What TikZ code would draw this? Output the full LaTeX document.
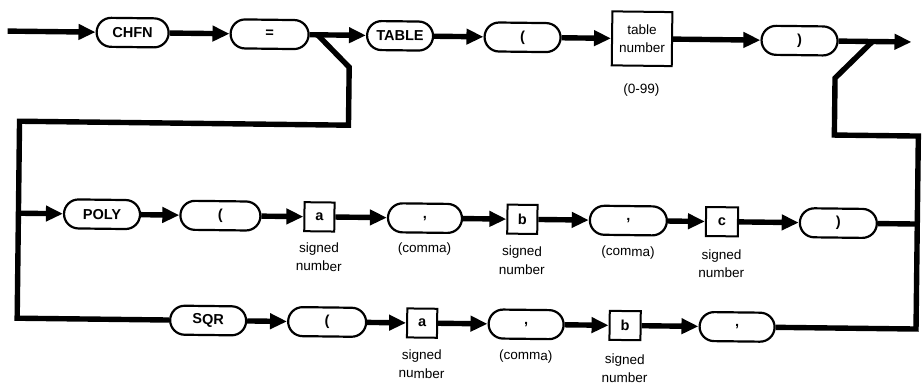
\documentclass[tikz,border=0pt]{standalone}
\usepackage{fontspec}
\setmainfont{Liberation Sans}
\usetikzlibrary{arrows.meta,shapes.misc}
\begin{document}
\begin{tikzpicture}[x=1pt,y=-1pt,
  conn/.style={line width=5.4pt, line join=miter, line cap=butt},
  flow/.style={conn, -{Triangle[length=17pt,width=15pt]}},
  kw/.style={draw, line width=2.2pt, rounded rectangle, minimum height=29pt,
    inner sep=0pt, font=\fontsize{14.5}{16}\selectfont\bfseries},
  val/.style={draw, line width=2pt, rectangle, minimum width=30pt,
    minimum height=29pt, inner sep=0pt, font=\fontsize{14.5}{16}\selectfont\bfseries},
  note/.style={align=center, inner sep=0pt, font=\fontsize{13.5}{18.5}\selectfont}]
\useasboundingbox (0,0) rectangle (924,391);
\begin{scope}[rotate=-0.69, transform shape]
  % ---- first line: CHFN = TABLE ( n )
  \coordinate (in) at (8,31);
  \node[kw, minimum width=72pt] (chfn) at (133,31) {CHFN};
  \node[kw, minimum width=78pt] (eq)   at (270,31) {=};
  \node[kw, minimum width=66pt] (tab)  at (400.5,31) {TABLE};
  \node[kw, minimum width=76pt] (lp1)  at (523,31) {(};
  \node[draw, line width=2pt, minimum width=60pt, minimum height=54pt,
        align=center, inner sep=0pt, font=\fontsize{13.5}{18}\selectfont] (tn) at (642.5,31) {table\\number};
  \node[note] (rng) at (642.5,82) {(0-99)};
  \node[kw, minimum width=76pt] (rp1)  at (800,31) {)};
  \coordinate (out) at (912,31);

  \draw[flow] (in) -- (chfn);
  \draw[flow] (chfn) -- (eq);
  \draw[flow] (eq) -- (tab);
  \draw[flow] (tab) -- (lp1);
  \draw[flow] (lp1) -- (tn);
  \draw[flow] (tn) -- (rp1);
  \draw[flow] (rp1) -- (out);

  % ---- second line: POLY ( a , b , c )
  \node[kw, minimum width=76pt] (poly) at (104.6,213) {POLY};
  \node[kw, minimum width=80pt] (lp2)  at (223,213) {(};
  \node[val] (pa) at (322,213) {a};
  \node[kw, minimum width=74pt] (cm1)  at (427.6,213) {,};
  \node[val] (pb) at (525,213) {b};
  \node[kw, minimum width=77pt] (cm2)  at (631,213) {,};
  \node[val, minimum width=32pt] (pc) at (724.6,213) {c};
  \node[kw, minimum width=77pt] (rp2)  at (841,213) {)};

  \node[note] at (322,253)   {signed\\number};
  \node[note] at (427.6,244) {(comma)};
  \node[note] at (525,254)   {signed\\number};
  \node[note] at (631,245)   {(comma)};
  \node[note] at (724.6,255) {signed\\number};

  \draw[flow] (poly) -- (lp2);
  \draw[flow] (lp2) -- (pa);
  \draw[flow] (pa) -- (cm1);
  \draw[flow] (cm1) -- (pb);
  \draw[flow] (pb) -- (cm2);
  \draw[flow] (cm2) -- (pc);
  \draw[flow] (pc) -- (rp2);

  % ---- third line: SQR ( a , b ,
  \node[kw, minimum width=76pt] (sqr)  at (212,318) {SQR};
  \node[kw, minimum width=78pt] (lp3)  at (331,318) {(};
  \node[val] (sa) at (426,318) {a};
  \node[kw, minimum width=75pt] (cm3)  at (530,318) {,};
  \node[val, minimum width=31pt] (sb) at (629,318) {b};
  \node[kw, minimum width=75pt] (cm4)  at (741,318) {,};

  \node[note] at (426,359) {signed\\number};
  \node[note] at (530,350) {(comma)};
  \node[note] at (629,361) {signed\\number};

  \draw[flow] (sqr) -- (lp3);
  \draw[flow] (lp3) -- (sa);
  \draw[flow] (sa) -- (cm3);
  \draw[flow] (cm3) -- (sb);
  \draw[flow] (sb) -- (cm4);

  % ---- left return path after "="
  \coordinate (ba) at (318,31);
  \coordinate (bb) at (350,63);
  \coordinate (bc) at (350,121);
  \coordinate (L1) at (21,121);
  \coordinate (L2) at (21,213);
  \coordinate (L3) at (21,318);
  \draw[conn] (ba) -- (bb) -- (bc) -- (L1) -- (L3) -- (sqr);
  \draw[flow] (L2) -- (poly);

  % ---- right return path after ")"
  \coordinate (ra) at (873,31);
  \coordinate (rb) at (836,68);
  \coordinate (rc) at (836,125);
  \coordinate (R1) at (920,125);
  \coordinate (R3) at (920,318);
  \draw[conn] (ra) -- (rb) -- (rc) -- (R1) -- (R3) -- (cm4);
  \draw[conn] (rp2) -- (rp2 -| R1);
\end{scope}
\end{tikzpicture}
\end{document}
